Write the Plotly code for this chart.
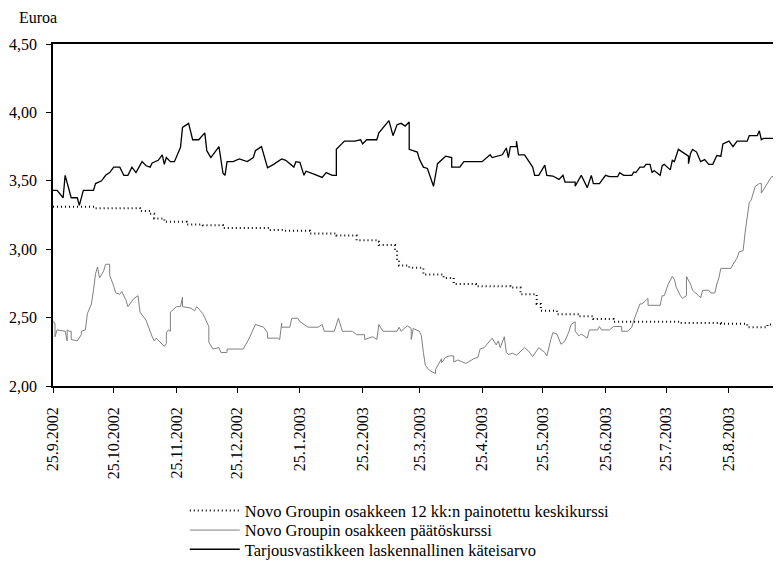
import plotly.graph_objects as go
import pandas as pd

START = pd.Timestamp("2002-09-25")

# Tarjousvastikkeen laskennallinen käteisarvo (days since 25.9.2002, EUR)
offer_days = [0, 2, 5, 6, 9, 12, 13, 15, 20, 21,
              24, 26, 28, 30, 33, 35, 37, 39, 41, 44,
              46, 48, 49, 52, 54, 55, 56, 58, 60, 63,
              64, 67, 69, 72, 75, 76, 78, 82, 84, 85,
              86, 89, 92, 96, 99, 100, 103, 106, 109, 113,
              115, 119, 120, 122, 124, 125, 128, 133, 135, 138,
              140, 140, 144, 149, 152, 153, 155, 160, 161, 166,
              168, 170, 172, 174, 176, 176, 180, 181, 183, 185,
              188, 190, 194, 197, 197, 201, 203, 212, 216, 217,
              222, 224, 225, 226, 229, 229, 230, 233, 237, 238,
              240, 243, 244, 247, 250, 252, 253, 258, 258, 261,
              264, 266, 267, 270, 273, 275, 279, 280, 282, 286,
              287, 288, 290, 292, 293, 295, 296, 297, 300, 301,
              302, 305, 306, 307, 309, 311, 314, 314, 315, 316,
              318, 320, 322, 324, 326, 328, 330, 331, 334, 336,
              338, 343, 344, 348, 349, 350, 351, 356, 358, 360]
offer_vals = [3.43, 3.43, 3.376, 3.54, 3.376, 3.376, 3.32, 3.43, 3.43, 3.48,
              3.50, 3.54, 3.56, 3.60, 3.60, 3.54, 3.54, 3.60, 3.56, 3.64,
              3.61, 3.60, 3.63, 3.65, 3.69, 3.62, 3.67, 3.64, 3.64, 3.745,
              3.89, 3.92, 3.80, 3.80, 3.85, 3.72, 3.67, 3.75, 3.555, 3.54,
              3.64, 3.64, 3.66, 3.64, 3.67, 3.72, 3.75, 3.595, 3.62, 3.66,
              3.65, 3.60, 3.64, 3.635, 3.54, 3.57, 3.555, 3.525, 3.56, 3.54,
              3.54, 3.73, 3.79, 3.79, 3.80, 3.77, 3.80, 3.80, 3.85, 3.94,
              3.83, 3.91, 3.92, 3.90, 3.93, 3.73, 3.71, 3.66, 3.60, 3.59,
              3.46, 3.625, 3.68, 3.67, 3.60, 3.60, 3.64, 3.64, 3.69, 3.67,
              3.69, 3.74, 3.67, 3.75, 3.75, 3.79, 3.69, 3.69, 3.60, 3.54,
              3.54, 3.615, 3.54, 3.535, 3.51, 3.54, 3.49, 3.49, 3.46, 3.54,
              3.45, 3.54, 3.48, 3.48, 3.54, 3.53, 3.53, 3.56, 3.54, 3.54,
              3.565, 3.56, 3.60, 3.60, 3.62, 3.62, 3.56, 3.575, 3.54, 3.61,
              3.62, 3.58, 3.65, 3.64, 3.73, 3.71, 3.68, 3.625, 3.70, 3.73,
              3.71, 3.64, 3.655, 3.62, 3.62, 3.685, 3.68, 3.77, 3.79, 3.75,
              3.79, 3.79, 3.83, 3.83, 3.865, 3.80, 3.81, 3.81, 3.875, 3.88]

# Novo Groupin osakkeen päätöskurssi
close_days = [0, 1, 1, 2, 6, 7, 7, 8, 9, 9,
              12, 14, 14, 16, 17, 19, 20, 21, 22, 23,
              25, 26, 28, 28, 30, 31, 33, 34, 36, 37,
              40, 42, 43, 46, 49, 50, 51, 54, 55, 56,
              56, 57, 58, 58, 61, 63, 64, 64, 68, 70,
              71, 74, 77, 77, 79, 82, 83, 86, 86, 94,
              97, 100, 104, 106, 106, 111, 112, 113, 113, 117,
              118, 121, 122, 126, 131, 133, 134, 139, 141, 143,
              148, 150, 154, 154, 158, 160, 161, 163, 170, 171,
              172, 175, 177, 177, 178, 181, 182, 183, 184, 186,
              188, 189, 189, 190, 191, 192, 192, 194, 196, 198,
              198, 200, 204, 208, 210, 211, 213, 217, 219, 220,
              221, 223, 224, 225, 227, 229, 233, 235, 237, 240,
              243, 244, 246, 247, 249, 251, 253, 255, 256, 258,
              258, 260, 261, 264, 265, 269, 270, 271, 275, 277,
              281, 281, 284, 286, 287, 289, 290, 291, 294, 294,
              300, 301, 302, 304, 306, 307, 308, 310, 311, 313,
              313, 315, 316, 319, 320, 321, 324, 325, 327, 328,
              329, 330, 335, 336, 338, 339, 341, 342, 344, 345,
              347, 349, 350, 350, 352, 354, 355, 357, 357, 358,
              359, 360]
close_vals = [2.47, 2.46, 2.36, 2.41, 2.40, 2.33, 2.41, 2.40, 2.40, 2.34,
              2.33, 2.375, 2.40, 2.41, 2.53, 2.60, 2.70, 2.82, 2.87, 2.79,
              2.84, 2.89, 2.89, 2.81, 2.73, 2.68, 2.67, 2.69, 2.63, 2.58,
              2.64, 2.66, 2.54, 2.48, 2.36, 2.33, 2.35, 2.30, 2.29, 2.31,
              2.39, 2.41, 2.40, 2.54, 2.58, 2.58, 2.65, 2.58, 2.57, 2.55,
              2.58, 2.53, 2.435, 2.32, 2.27, 2.28, 2.245, 2.245, 2.27, 2.27,
              2.35, 2.45, 2.43, 2.39, 2.35, 2.35, 2.34, 2.46, 2.43, 2.43,
              2.495, 2.495, 2.47, 2.43, 2.43, 2.45, 2.40, 2.40, 2.495, 2.40,
              2.40, 2.375, 2.375, 2.34, 2.36, 2.34, 2.45, 2.40, 2.40, 2.43,
              2.40, 2.44, 2.42, 2.34, 2.42, 2.40, 2.37, 2.245, 2.15, 2.115,
              2.10, 2.09, 2.12, 2.15, 2.18, 2.20, 2.17, 2.21, 2.22, 2.22,
              2.175, 2.19, 2.165, 2.20, 2.21, 2.27, 2.28, 2.35, 2.30, 2.33,
              2.28, 2.36, 2.245, 2.23, 2.24, 2.225, 2.28, 2.255, 2.215, 2.28,
              2.245, 2.22, 2.34, 2.39, 2.38, 2.305, 2.33, 2.40, 2.45, 2.47,
              2.40, 2.365, 2.38, 2.35, 2.41, 2.41, 2.435, 2.41, 2.41, 2.435,
              2.435, 2.40, 2.40, 2.43, 2.48, 2.565, 2.60, 2.60, 2.64, 2.59,
              2.59, 2.66, 2.66, 2.745, 2.80, 2.78, 2.72, 2.66, 2.64, 2.66,
              2.80, 2.745, 2.70, 2.66, 2.645, 2.70, 2.70, 2.68, 2.68, 2.745,
              2.79, 2.86, 2.86, 2.89, 2.935, 2.98, 2.99, 3.125, 3.34, 3.36,
              3.46, 3.48, 3.48, 3.41, 3.46, 3.51, 3.53, 3.53, 3.51, 3.53,
              3.51, 3.50]

# Novo Groupin osakkeen 12 kk:n painotettu keskikurssi
avg_days = [0, 13, 21, 38, 43, 48, 50, 55, 66, 74,
            84, 101, 107, 114, 127, 140, 150, 160, 161, 165,
            169, 170, 171, 176, 183, 193, 198, 209, 226, 231,
            239, 241, 249, 260, 267, 277, 310, 330, 343, 353,
            359]
avg_vals = [3.31, 3.31, 3.30, 3.30, 3.28, 3.26, 3.225, 3.20, 3.18, 3.175,
            3.155, 3.155, 3.14, 3.135, 3.115, 3.10, 3.065, 3.055, 3.03, 3.03,
            2.995, 2.92, 2.88, 2.865, 2.815, 2.79, 2.745, 2.73, 2.72, 2.67,
            2.60, 2.55, 2.525, 2.51, 2.49, 2.47, 2.46, 2.455, 2.43, 2.45,
            2.47]

tick_dates = ["2002-09-25", "2002-10-25", "2002-11-25", "2002-12-25",
              "2003-01-25", "2003-02-25", "2003-03-25", "2003-04-25",
              "2003-05-25", "2003-06-25", "2003-07-25", "2003-08-25"]
tick_labels = ["25.9.2002", "25.10.2002", "25.11.2002", "25.12.2002",
               "25.1.2003", "25.2.2003", "25.3.2003", "25.4.2003",
               "25.5.2003", "25.6.2003", "25.7.2003", "25.8.2003"]
y_ticks = [2.0, 2.5, 3.0, 3.5, 4.0, 4.5]

names = ["Novo Groupin osakkeen 12 kk:n painotettu keskikurssi",
         "Novo Groupin osakkeen päätöskurssi",
         "Tarjousvastikkeen laskennallinen käteisarvo"]


def to_dates(days):
    return [START + pd.Timedelta(days=d) for d in days]


FONT = "Liberation Serif"
fig = go.Figure()
fig.add_trace(go.Scatter(x=to_dates(close_days), y=close_vals, mode="lines",
                         name=names[1], legend="legend2",
                         line=dict(color="#808080", width=1)))
fig.add_trace(go.Scatter(x=to_dates(offer_days), y=offer_vals, mode="lines",
                         name=names[2], legend="legend3",
                         line=dict(color="#000000", width=1.3)))
fig.add_trace(go.Scatter(x=to_dates(avg_days), y=avg_vals, mode="lines",
                         name=names[0], legend="legend",
                         line=dict(color="#000000", width=2, dash="1px,3px",
                                   shape="hv")))

leg = dict(xanchor="left", yanchor="middle", bgcolor="rgba(0,0,0,0)",
           font=dict(family=FONT, size=16.5, color="black"), borderwidth=0,
           itemwidth=50)
fig.update_layout(
    width=773, height=559,
    margin=dict(l=45, r=0, t=36, b=173),
    paper_bgcolor="white", plot_bgcolor="white",
    font=dict(family=FONT, size=16, color="black"),
    separators=", ",
    showlegend=True,
    legend=dict(x=0.181, y=-0.365, **leg),
    legend2=dict(x=0.181, y=-0.422, **leg),
    legend3=dict(x=0.181, y=-0.479, **leg),
    xaxis=dict(type="date", range=[START, "2003-09-19 17:00"],
               tickvals=tick_dates, ticktext=tick_labels, tickangle=-90,
               ticks="outside", ticklen=5, tickcolor="black",
               ticklabelstandoff=8,
               showline=True, linecolor="black", linewidth=1.5, mirror=True,
               showgrid=False, zeroline=False),
    yaxis=dict(range=[2, 4.5], tickvals=y_ticks, tickformat=".2f",
               ticks="outside", ticklen=5, tickcolor="black",
               ticklabelstandoff=6,
               showline=True, linecolor="black", linewidth=1.5,
               showgrid=False, zeroline=False),
    annotations=[dict(text="Euroa", xref="paper", yref="paper",
                      x=-0.05, y=1.078, xanchor="left", yanchor="middle",
                      showarrow=False,
                      font=dict(family=FONT, size=16, color="black"))],
)

fig.write_html("out.html")
